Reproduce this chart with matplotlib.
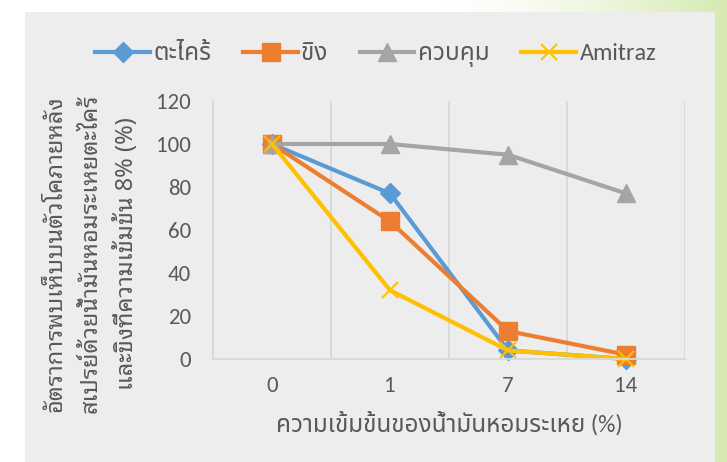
import numpy as np
import matplotlib
matplotlib.use("Agg")
import matplotlib.pyplot as plt
from matplotlib.patches import Rectangle

plt.rcParams['font.family'] = ['Carlito', 'Noto Sans Thai', 'DejaVu Sans']

# concentration of essential oil (%)
days = ["0", "1", "7", "14"]
lemongrass = [100, 77, 4, 0]
ginger = [100, 64, 13, 2]
control = [100, 100, 95, 77]
amitraz = [100, 32, 4, 0]

series = [
    ("ตะไคร้", lemongrass, "#5B9BD5", "D", 10),
    ("ขิง", ginger, "#ED7D31", "s", 12.5),
    ("ควบคุม", control, "#A5A5A5", "^", 12.5),
    ("Amitraz", amitraz, "#FFC000", "x", 12),
]

fig = plt.figure(figsize=(7.27, 4.62), dpi=100)

# pale green backdrop at the right and top edges
bg = fig.add_axes([0, 0, 1, 1], zorder=-3)
bg.set_axis_off()
w, h = 727, 462
img = np.ones((h, w, 3))
green = np.array([0.84, 0.92, 0.70])
xs = np.arange(w)
fade = np.clip((xs - 440) / 280.0, 0, 1) ** 1.5
for c in range(3):
    img[:, :, c] = 1 - fade[None, :] * (1 - green[c])
bg.imshow(img, aspect="auto", extent=[0, 1, 0, 1])
bg.set_xlim(0, 1)
bg.set_ylim(0, 1)
bg.add_patch(Rectangle((25 / w, 0), 690 / w, 1 - 12 / h, color="#EDEDED", lw=0))

ax = fig.add_axes([213 / w, 1 - 359 / h, 472 / w, 258 / h])
ax.set_facecolor("none")
x = np.arange(len(days))
for name, vals, col, mk, ms in series:
    if mk == "x":
        ax.plot(x, vals, color=col, lw=3, marker=mk, ms=ms, mew=1.5, label=name, clip_on=False)
    else:
        ax.plot(x, vals, color=col, lw=3, marker=mk, ms=ms, label=name, clip_on=False)

ax.set_xlim(-0.5, 3.5)
ax.set_ylim(0, 120)
ax.set_yticks(range(0, 121, 20))
ax.set_xticks(x)
ax.set_xticklabels(days)
ax.set_xticks([-0.5, 0.5, 1.5, 2.5, 3.5], minor=True)
ax.grid(True, which="minor", axis="x", color="#D9D9D9", lw=1.3)
ax.tick_params(which="both", length=0, labelsize=16.5, colors="#595959")
ax.tick_params(axis="y", pad=16)
ax.tick_params(axis="x", pad=12)
for s in ["top", "right"]:
    ax.spines[s].set_visible(False)
for s in ["left", "bottom"]:
    ax.spines[s].set_color("#D9D9D9")
    ax.spines[s].set_linewidth(1.3)

ax.set_xlabel("ความเข้มข้นของน้ำมันหอมระเหย (%)", fontsize=17.5, color="#595959", labelpad=11)
ax.set_ylabel("อัตราการพบเห็บบนตัวโคภายหลัง\nสเปรย์ด้วยน้ำมันหอมระเหยตะไคร้\nและขิงที่ความเข้มข้น 8% (%)",
              fontsize=17, color="#595959", linespacing=1.6,
              family=['Noto Sans Thai Looped', 'DejaVu Sans'])
ax.yaxis.set_label_coords(-0.157, 0.41)

fig.legend(loc="center", bbox_to_anchor=(0.517, 1 - 55 / h), ncol=4, frameon=False,
           fontsize=17.5, handlelength=2.25, columnspacing=1.3, handletextpad=0.15,
           labelcolor="#595959")

fig.savefig("out.png")
